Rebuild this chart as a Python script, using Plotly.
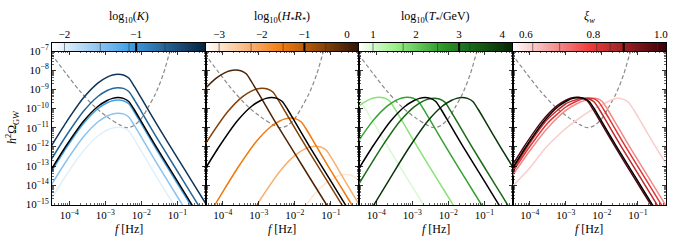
import plotly.graph_objects as go
from plotly.colors import sample_colorscale

# ---------------- data (log10 f [Hz], log10 h^2 Omega_GW) ----------------
# sensitivity curve (dashed grey)
sens_logf = [-4.7, -4.48, -4.1, -3.7, -3.3, -2.9, -2.6, -2.4, -2.2, -2.0, -1.8, -1.6, -1.4, -1.25, -1.1]
sens_logO = [-6.6, -7.2, -8.15, -9.1, -9.9, -10.5, -10.85, -11.0, -10.88, -10.52, -9.9, -9.2, -8.25, -7.3, -6.3]

# benchmark spectrum (black), drawn in every panel
bench_logf = [-5.05, -4.50, -4.10, -3.60, -3.20, -2.95, -2.80, -2.65, -2.50, -2.35, -2.20, -2.00, -1.60, -1.00, -0.60, -0.05]
bench_logO = [-14.88, -13.18, -11.98, -10.65, -9.88, -9.58, -9.47, -9.43, -9.47, -9.63, -10.05, -10.68, -11.96, -13.79, -15.01, -16.67]

# panel 1: log10(K)
K_vals = [-2.0, -1.5, -1.1, -0.6, -0.2]
K_bench = -1.0
K_range = [-2.174, -0.033]
K_ticks = [-2, -1]
K_logf = [
    [-5.05, -4.50, -4.10, -3.60, -3.20, -2.95, -2.80, -2.65, -2.50, -2.35, -2.20, -2.00, -1.60, -1.00, -0.60, -0.05],
] * 5
K_logO = [
    [-16.42, -14.72, -13.52, -12.19, -11.42, -11.12, -11.01, -10.97, -11.01, -11.17, -11.59, -12.22, -13.50, -15.33, -16.55, -18.21],
    [-15.69, -13.99, -12.79, -11.46, -10.69, -10.39, -10.28, -10.24, -10.28, -10.44, -10.86, -11.49, -12.77, -14.60, -15.82, -17.48],
    [-15.00, -13.30, -12.10, -10.77, -10.00, -9.70, -9.59, -9.55, -9.59, -9.75, -10.17, -10.80, -12.08, -13.91, -15.13, -16.79],
    [-14.36, -12.66, -11.46, -10.13, -9.36, -9.06, -8.95, -8.91, -8.95, -9.11, -9.53, -10.16, -11.44, -13.27, -14.49, -16.15],
    [-13.66, -11.96, -10.76, -9.43, -8.66, -8.36, -8.25, -8.21, -8.25, -8.41, -8.83, -9.46, -10.74, -12.57, -13.79, -15.45],
]

# panel 2: log10(H* R*)
HR_vals = [-3.0, -2.25, -1.5, -0.5, 0.0]
HR_bench = -1.0
HR_range = [-3.32, 0.28]
HR_ticks = [-3, -2, -1, 0]
HR_logf = [
    [-2.04, -1.54, -1.14, -0.89, -0.74, -0.59, -0.44, -0.29, -0.14],
    [-3.28, -2.88, -2.38, -1.98, -1.73, -1.58, -1.43, -1.28, -1.13, -0.98, -0.78, -0.38, 0.22],
    [-4.52, -3.97, -3.57, -3.07, -2.67, -2.42, -2.27, -2.12, -1.97, -1.82, -1.67, -1.47, -1.07, -0.47, -0.07],
    [-4.76, -4.36, -3.86, -3.46, -3.21, -3.06, -2.91, -2.76, -2.61, -2.46, -2.26, -1.86, -1.26, -0.86, -0.31],
    [-5.10, -4.60, -4.20, -3.95, -3.80, -3.65, -3.50, -3.35, -3.20, -3.00, -2.60, -2.00, -1.60, -1.05, -0.35],
]
HR_logO = [
    [-15.99, -14.66, -13.89, -13.59, -13.48, -13.44, -13.48, -13.64, -14.06],
    [-15.72, -14.52, -13.19, -12.42, -12.12, -12.01, -11.97, -12.01, -12.17, -12.59, -13.22, -14.50, -16.33],
    [-15.95, -14.25, -13.05, -11.72, -10.95, -10.65, -10.54, -10.50, -10.54, -10.70, -11.12, -11.75, -13.03, -14.86, -16.08],
    [-12.69, -11.49, -10.16, -9.39, -9.09, -8.98, -8.94, -8.98, -9.14, -9.56, -10.19, -11.47, -13.30, -14.52, -16.18],
    [-10.54, -9.21, -8.44, -8.14, -8.03, -7.99, -8.03, -8.19, -8.61, -9.24, -10.52, -12.35, -13.57, -15.23, -17.33],
]

# panel 3: log10(T*/GeV)
T_vals = [1.0, 1.7, 2.5, 3.25, 4.0]
T_bench = 3.0
T_range = [0.675, 4.24]
T_ticks = [1, 2, 3, 4]
T_logf = [
    [-4.87, -4.72, -4.57, -4.42, -4.27, -4.07, -3.67, -3.07, -2.67, -2.12],
    [-4.88, -4.48, -4.23, -4.08, -3.93, -3.78, -3.63, -3.48, -3.28, -2.88, -2.28, -1.88, -1.33],
    [-4.99, -4.59, -4.09, -3.69, -3.44, -3.29, -3.14, -2.99, -2.84, -2.69, -2.49, -2.09, -1.49, -1.09, -0.54],
    [-4.80, -4.25, -3.85, -3.35, -2.95, -2.70, -2.55, -2.40, -2.25, -2.10, -1.95, -1.75, -1.35, -0.75, -0.35, 0.20],
    [-4.62, -4.02, -3.47, -3.07, -2.57, -2.17, -1.92, -1.77, -1.62, -1.47, -1.32, -1.17, -0.97, -0.57, 0.03],
]
T_logO = [
    [-9.54, -9.50, -9.54, -9.70, -10.12, -10.75, -12.03, -13.86, -15.08, -16.74],
    [-10.63, -9.86, -9.56, -9.45, -9.41, -9.45, -9.61, -10.03, -10.66, -11.94, -13.77, -14.99, -16.65],
    [-13.16, -11.96, -10.63, -9.86, -9.56, -9.45, -9.41, -9.45, -9.61, -10.03, -10.66, -11.94, -13.77, -14.99, -16.65],
    [-14.91, -13.21, -12.01, -10.68, -9.91, -9.61, -9.50, -9.46, -9.50, -9.66, -10.08, -10.71, -11.99, -13.82, -15.04, -16.70],
    [-16.68, -14.88, -13.18, -11.98, -10.65, -9.88, -9.58, -9.47, -9.43, -9.47, -9.63, -10.05, -10.68, -11.96, -13.79],
]

# panel 4: xi_w
XI_vals = [0.62, 0.70, 0.81, 0.85, 0.99]
XI_bench = 0.89
XI_range = [0.56, 1.0155]
XI_ticks = [0.6, 0.8, 1.0]
XI_logf = [
    [-4.7, -4.48, -4.0, -3.6, -3.1, -2.68, -2.3, -1.94, -1.75, -1.57, -1.42, -1.27, -1.12, -0.92, -0.52, 0.08],
    [-4.7, -4.48, -4.0, -3.5, -3.0, -2.7, -2.45, -2.29, -2.14, -1.99, -1.84, -1.64, -1.24, -0.64, -0.24, 0.31],
    [-4.7, -4.48, -4.0, -3.5, -3.0, -2.75, -2.55, -2.40, -2.25, -2.10, -1.95, -1.75, -1.35, -0.75, -0.35, 0.2],
    [-4.7, -4.48, -4.0, -3.5, -3.0, -2.75, -2.6, -2.5, -2.37, -2.22, -2.07, -1.87, -1.47, -0.87, -0.47, 0.08],
    [-5.10, -4.55, -4.15, -3.65, -3.25, -3.00, -2.85, -2.70, -2.55, -2.40, -2.25, -2.05, -1.65, -1.05, -0.65, -0.10],
]
XI_logO = [
    [-14.5, -14.05, -13.1, -12.14, -11.2, -10.58, -10.1, -9.75, -9.57, -9.47, -9.51, -9.66, -10.05, -10.68, -11.96, -13.79],
    [-14.1, -13.49, -12.2, -11.0, -10.1, -9.75, -9.56, -9.48, -9.48, -9.63, -10.05, -10.68, -11.96, -13.79, -15.01, -16.67],
    [-13.95, -13.32, -11.98, -10.75, -9.92, -9.66, -9.51, -9.45, -9.47, -9.63, -10.05, -10.68, -11.96, -13.79, -15.01, -16.67],
    [-13.85, -13.22, -11.80, -10.55, -9.75, -9.56, -9.48, -9.46, -9.49, -9.65, -10.05, -10.68, -11.96, -13.79, -15.01, -16.67],
    [-14.86, -13.16, -11.96, -10.63, -9.86, -9.56, -9.45, -9.41, -9.45, -9.61, -10.03, -10.66, -11.94, -13.77, -14.99, -16.65],
]

# ---------------- styling ----------------
blue_cs = [[0, 'rgb(255,255,255)'], [0.5, 'rgb(66,160,232)'], [1, 'rgb(6,34,62)']]
orange_cs = [[0, 'rgb(255,255,255)'], [0.5, 'rgb(242,122,12)'], [1, 'rgb(46,20,4)']]
green_cs = [[0, 'rgb(255,255,255)'], [0.25, 'rgb(150,238,130)'], [0.55, 'rgb(40,150,40)'], [1, 'rgb(5,38,5)']]
red_cs = [[0, 'rgb(255,255,255)'], [0.5, 'rgb(240,60,60)'], [1, 'rgb(58,0,8)']]

MINUS = '\u2212'


def fmt_tick(v):
    s = f"{v:.1f}" if isinstance(v, float) else str(v)
    return s.replace('-', MINUS)


panels = [
    dict(vals=K_vals, bench=K_bench, rng=K_range, ticks=K_ticks, cs=blue_cs,
         logf=K_logf, logO=K_logO, title='log<sub>10</sub>(<i>K</i>)'),
    dict(vals=HR_vals, bench=HR_bench, rng=HR_range, ticks=HR_ticks, cs=orange_cs,
         logf=HR_logf, logO=HR_logO, title='log<sub>10</sub>(<i>H</i><sub>*</sub><i>R</i><sub>*</sub>)'),
    dict(vals=T_vals, bench=T_bench, rng=T_range, ticks=T_ticks, cs=green_cs,
         logf=T_logf, logO=T_logO, title='log<sub>10</sub>(<i>T</i><sub>*</sub>/GeV)'),
    dict(vals=XI_vals, bench=XI_bench, rng=XI_range, ticks=XI_ticks, cs=red_cs,
         logf=XI_logf, logO=XI_logO, title='<i>ξ<sub>w</sub></i>'),
]

W, H = 673, 242
ml, mr, mt, mb = 52, 7, 43, 37
ph = H - mt - mb
ytop = (H - mb - 51) / ph

FONT = 'Liberation Serif'
fig = go.Figure()

xminor = [m * 10 ** d for d in range(-5, 1) for m in range(2, 10)]
yminor = [m * 10 ** d for d in range(-16, -6) for m in range(2, 10)]
xmajor = [1e-4, 1e-3, 1e-2, 1e-1]
xmajor_txt = ['10<sup>' + MINUS + str(k) + '</sup>' for k in (4, 3, 2, 1)]
ymajor = [10.0 ** (-k) for k in range(7, 16)]
ymajor_txt = ['10<sup>' + MINUS + str(k) + '</sup>' for k in range(7, 16)]

shapes = []
annotations = []
for i, p in enumerate(panels):
    ax = i + 1
    cb = i + 5
    xa = 'x' if ax == 1 else f'x{ax}'
    ya = 'y' if ax == 1 else f'y{ax}'
    dom = [i * 0.25, (i + 1) * 0.25]
    lo, hi = p['rng']

    # sensitivity
    fig.add_trace(go.Scatter(x=[10 ** v for v in sens_logf], y=[10 ** v for v in sens_logO],
                             mode='lines', line=dict(color='#8a8a8a', width=1.2, dash='4px,2.5px', shape='spline', smoothing=0.8),
                             xaxis=xa, yaxis=ya, showlegend=False, hoverinfo='skip'))
    # coloured spectra
    for v, lf, lo_ in zip(p['vals'], p['logf'], p['logO']):
        c = sample_colorscale(p['cs'], [(v - lo) / (hi - lo)])[0]
        fig.add_trace(go.Scatter(x=[10 ** a for a in lf], y=[10 ** b for b in lo_], mode='lines',
                                 line=dict(color=c, width=1.5, shape='spline', smoothing=0.6),
                                 xaxis=xa, yaxis=ya, showlegend=False, hoverinfo='skip'))
    # benchmark
    fig.add_trace(go.Scatter(x=[10 ** a for a in bench_logf], y=[10 ** b for b in bench_logO], mode='lines',
                             line=dict(color='black', width=1.5, shape='spline', smoothing=0.6),
                             xaxis=xa, yaxis=ya, showlegend=False, hoverinfo='skip'))

    axis_common = dict(showline=True, linecolor='black', linewidth=1, mirror='allticks', ticks='inside',
                       ticklen=4, tickwidth=0.8, tickcolor='black', showgrid=False, zeroline=False,
                       tickfont=dict(family=FONT, size=11, color='black'),
                       minor=dict(ticks='inside', ticklen=2, tickwidth=0.6, tickcolor='black', tickmode='array'))
    xconf = dict(axis_common)
    xconf.update(type='log', range=[-4.48, -0.22], domain=dom, anchor=ya,
                 tickmode='array', tickvals=xmajor, ticktext=xmajor_txt)
    xconf['minor'] = dict(axis_common['minor'], tickvals=xminor)
    yconf = dict(axis_common)
    yconf.update(type='log', range=[-15.03, -7.0], domain=[0, ytop], anchor=xa,
                 tickmode='array', tickvals=ymajor, ticktext=ymajor_txt, showticklabels=(i == 0))
    yconf['minor'] = dict(axis_common['minor'], tickvals=yminor)
    fig.layout[f'xaxis{ax if ax > 1 else ""}'] = xconf
    fig.layout[f'yaxis{ax if ax > 1 else ""}'] = yconf

    # colour bar
    n = 256
    grid = [lo + (hi - lo) * k / (n - 1) for k in range(n)]
    fig.add_trace(go.Heatmap(x=grid, y=[0, 1], z=[grid], colorscale=p['cs'], zmin=lo, zmax=hi,
                             showscale=False, xaxis=f'x{cb}', yaxis=f'y{cb}', hoverinfo='skip'))
    fig.layout[f'xaxis{cb}'] = dict(domain=dom, anchor=f'y{cb}', range=[lo, hi], side='top',
                                    tickmode='array', tickvals=p['ticks'],
                                    ticktext=[fmt_tick(t) for t in p['ticks']], ticks='',
                                    showline=True, linecolor='black', linewidth=1, mirror=True,
                                    showgrid=False, zeroline=False,
                                    tickfont=dict(family=FONT, size=11, color='black'))
    fig.layout[f'yaxis{cb}'] = dict(domain=[ytop, 1], anchor=f'x{cb}', range=[0, 1], showticklabels=False,
                                    ticks='', showline=True, linecolor='black', linewidth=1, mirror=True,
                                    showgrid=False, zeroline=False)
    for v in p['vals']:
        shapes.append(dict(type='line', xref=f'x{cb}', yref=f'y{cb} domain', x0=v, x1=v, y0=0, y1=1,
                           line=dict(color='rgba(50,50,50,0.75)', width=0.8)))
    shapes.append(dict(type='line', xref=f'x{cb}', yref=f'y{cb} domain', x0=p['bench'], x1=p['bench'],
                       y0=0, y1=1, line=dict(color='black', width=2)))

    annotations.append(dict(text=p['title'], xref='paper', yref='paper', x=(dom[0] + dom[1]) / 2,
                            y=(H - mb - 17.5) / ph, xanchor='center', yanchor='middle', showarrow=False,
                            font=dict(family=FONT, size=12, color='black')))
    annotations.append(dict(text='<i>f</i> [Hz]', xref='paper', yref='paper', x=(dom[0] + dom[1]) / 2,
                            y=(205 - 229) / ph, xanchor='center', yanchor='middle', showarrow=False,
                            font=dict(family=FONT, size=12, color='black')))

annotations.append(dict(text='<i>h</i><sup>2</sup>Ω<sub>GW</sub>', xref='paper', yref='paper',
                        x=(12 - ml) / (W - ml - mr), y=(H - mb - 128) / ph, xanchor='center', yanchor='middle',
                        textangle=-90, showarrow=False, font=dict(family=FONT, size=12, color='black')))

fig.update_layout(width=W, height=H, margin=dict(l=ml, r=mr, t=mt, b=mb, autoexpand=False),
                  paper_bgcolor='white', plot_bgcolor='white', shapes=shapes, annotations=annotations,
                  font=dict(family=FONT, size=11, color='black'), showlegend=False)

fig.write_html('out.html', config={'displayModeBar': False, 'staticPlot': True},
               post_script="document.body.style.margin='0px';document.body.style.padding='0px';")
